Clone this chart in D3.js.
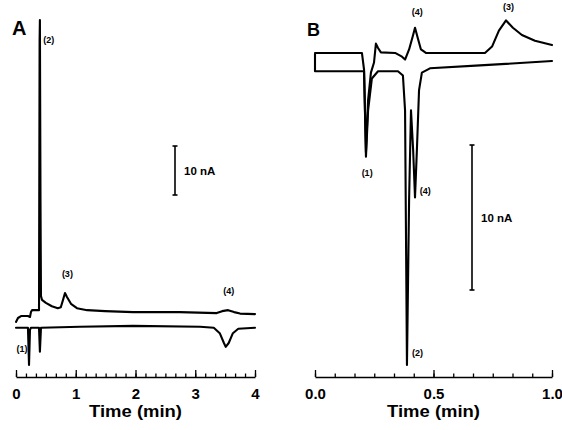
<!DOCTYPE html>
<html>
<head>
<meta charset="utf-8">
<script src="https://cdn.jsdelivr.net/npm/d3@7"></script>
<style>
body{margin:0;background:#fff;}
svg{display:block;font-family:"Liberation Sans",Arial,sans-serif;}
</style>
</head>
<body>
<div id="chart"></div>
<script>
(function(){
var width = 562,
	height = 430;

// panel A, time in min, current in nA (arbitrary offset)
var a_upper_t = [0,0.033,0.084,0.2,0.234,0.25,0.268,0.385,0.395,0.40,0.41,0.418,0.435,0.5,0.6,0.7,0.75,0.787,0.82,0.853,0.92,1.02,1.19,1.49,1.96,2.74,3.36,3.45,3.55,3.65,3.75,4.0];
var a_upper_v = [9.2,10.0,10.4,10.4,10.2,11.2,11.6,11.6,66.7,70.8,34,14.5,13.7,13.1,12.4,12.0,12.2,13.7,15.1,14.3,12.9,12.0,11.6,11.4,11.2,11.2,11.0,11.4,11.6,11.2,10.9,10.8];
var a_lower_t = [0,0.2,0.218,0.234,0.25,0.385,0.40,0.418,1.07,1.96,3.08,3.31,3.41,3.48,3.51,3.56,3.63,3.72,4.0];
var a_lower_v = [8.0,8.0,0.4,7.6,8.0,8.0,3.1,8.0,8.2,8.4,8.2,8.0,6.9,4.9,4.1,4.9,6.9,7.8,8.0];

// panel B
var b_upper_t = [0,0.198,0.207,0.215,0.224,0.236,0.249,0.257,0.266,0.278,0.338,0.367,0.380,0.397,0.414,0.422,0.435,0.447,0.468,0.717,0.747,0.776,0.806,0.835,0.873,0.928,1.0];
var b_upper_v = [21.66,21.66,20.5,14.8,18.4,20.3,21.0,22.3,22.0,21.7,21.66,21.4,21.2,21.9,22.9,23.4,22.6,21.9,21.66,21.66,22.1,23.2,23.9,23.4,22.9,22.5,22.2];
var b_lower_t = [0,0,0.207,0.215,0.224,0.24,0.266,0.35,0.371,0.380,0.388,0.397,0.405,0.414,0.422,0.430,0.439,0.451,0.485,0.696,1.0];
var b_lower_v = [21.59,20.4,20.4,14.5,17.7,19.9,20.4,20.4,20.1,17.7,0.14,11.5,17.7,15.0,11.7,15.0,19.1,20.3,20.6,20.8,21.1];

// peak labels: [time, nA, text]
var a_labels = [[0.1,3.0,"(1)"],[0.55,66.2,"(2)"],[0.86,18.4,"(3)"],[3.56,14.9,"(4)"]];
var b_labels = [[0.22,13.2,"(1)"],[0.433,0.75,"(2)"],[0.816,24.6,"(3)"],[0.431,24.3,"(4)"],[0.465,11.93,"(4)"]];

var a_ticks_major = [0,1,2,3,4],
	a_tick_labels = ["0","1","2","3","4"],
	b_ticks_major = [0,0.5,1.0],
	b_tick_labels = ["0.0","0.5","1.0"];

var a_scalebar = [35.1,45.1],
	b_scalebar = [5.31,15.31];

var axis_y = 377;

var xA = d3.scaleLinear().domain([0,4]).range([16,255]);
var yA = d3.scaleLinear().domain([0,70]).range([367,24]);
var xB = d3.scaleLinear().domain([0,1]).range([315,552]);
var yB = d3.scaleLinear().domain([0,25]).range([367,4.5]);

var svg = d3.select("#chart").append("svg")
	.attr("width",width)
	.attr("height",height);

function zip(t,v){ return t.map(function(d,i){ return [d,v[i]]; }); }

function trace(x,y,data){
	var line = d3.line().x(function(d){return x(d[0])}).y(function(d){return y(d[1])});
	svg.append("path")
		.attr("d",line(data))
		.attr("fill","none")
		.attr("stroke","#000")
		.attr("stroke-width",2.1)
		.attr("stroke-linejoin","round")
		.attr("stroke-linecap","round");
}

trace(xA,yA,zip(a_upper_t,a_upper_v));
trace(xA,yA,zip(a_lower_t,a_lower_v));
trace(xB,yB,zip(b_upper_t,b_upper_v));
trace(xB,yB,zip(b_lower_t,b_lower_v));

function peaklabels(x,y,data){
	svg.selectAll(null).data(data).enter().append("text")
		.attr("x",function(d){return x(d[0])})
		.attr("y",function(d){return y(d[1])})
		.attr("text-anchor","middle")
		.attr("font-size",9)
		.attr("font-weight","bold")
		.text(function(d){return d[2]});
}
peaklabels(xA,yA,a_labels);
peaklabels(xB,yB,b_labels);

function scalebar(xpos,y,v){
	var g = svg.append("g").attr("stroke","#000").attr("stroke-width",1.6);
	g.append("line").attr("x1",xpos).attr("x2",xpos).attr("y1",y(v[0])).attr("y2",y(v[1]));
	g.append("line").attr("x1",xpos-2.5).attr("x2",xpos+2.5).attr("y1",y(v[0])).attr("y2",y(v[0]));
	g.append("line").attr("x1",xpos-2.5).attr("x2",xpos+2.5).attr("y1",y(v[1])).attr("y2",y(v[1]));
	svg.append("text")
		.attr("x",xpos+9)
		.attr("y",(y(v[0])+y(v[1]))/2+4)
		.attr("font-size",11.5)
		.attr("font-weight","bold")
		.text("10 nA");
}
scalebar(175,yA,a_scalebar);
scalebar(472,yB,b_scalebar);

function axis(x,majors,labels,step){
	var minors = d3.range(x.domain()[0],x.domain()[1]+step/2,step);
	var g = svg.append("g").attr("transform","translate(0,"+axis_y+")");
	g.call(d3.axisBottom(x).tickValues(minors).tickSize(-3.5).tickSizeOuter(0).tickFormat(""));
	var gm = svg.append("g").attr("transform","translate(0,"+axis_y+")");
	gm.call(d3.axisBottom(x).tickValues(majors).tickSize(-7).tickSizeOuter(0).tickPadding(11)
		.tickFormat(function(d,i){return labels[i]}));
	gm.select(".domain").remove();
	[g,gm].forEach(function(s){
		s.selectAll("line").attr("stroke","#000").attr("stroke-width",1.3);
		s.selectAll(".domain").attr("stroke","#000").attr("stroke-width",1.6);
	});
	gm.selectAll("text").attr("font-size",15).attr("font-weight","bold")
		.attr("font-family","'Liberation Sans',Arial,sans-serif").attr("fill","#000");
	svg.append("text")
		.attr("x",(x.range()[0]+x.range()[1])/2)
		.attr("y",417)
		.attr("text-anchor","middle")
		.attr("font-size",17)
		.attr("font-weight","900")
		.attr("textLength",93)
		.attr("lengthAdjust","spacingAndGlyphs")
		.text("Time (min)");
}
axis(xA,a_ticks_major,a_tick_labels,1/6);
axis(xB,b_ticks_major,b_tick_labels,1/12);

svg.append("text").attr("x",12).attr("y",35).attr("font-size",20).attr("font-weight","900").text("A");
svg.append("text").attr("x",307).attr("y",36).attr("font-size",18).attr("font-weight","900").text("B");

})()
</script>
</body>
</html>
